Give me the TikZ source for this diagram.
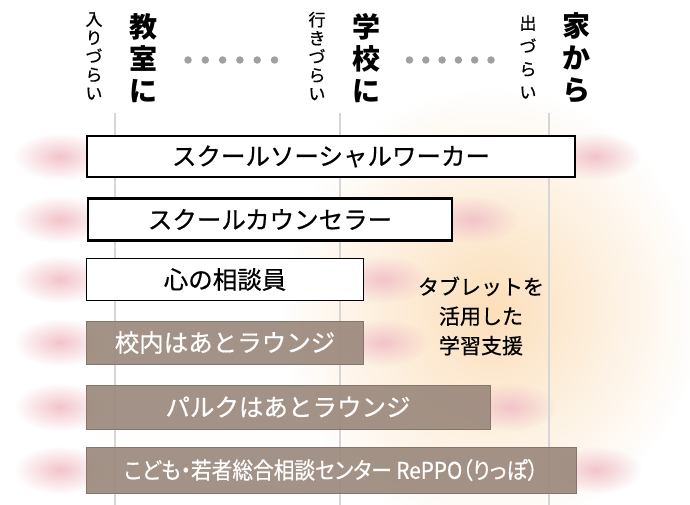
\documentclass[tikz,border=0pt]{standalone}
\usepackage{graphicx}
\usepackage{fontspec}
\setmainfont{Noto Sans CJK JP}
\newfontfamily\medfont{Noto Sans CJK JP}[FakeBold=0.6]
\newfontfamily\palfont{Noto Sans CJK JP}[FakeBold=0.6, RawFeature=+palt]
\usetikzlibrary{fadings}
\tikzfading[name=glow, inner color=transparent!0, outer color=transparent!100]
\definecolor{boxbrown}{HTML}{9C897D}
\definecolor{boxedge}{HTML}{86756A}
\definecolor{glowpink}{HTML}{F2C4CA}
\definecolor{glowpeach}{HTML}{FCDFBA}
\definecolor{guide}{HTML}{D6D6D6}
\definecolor{dotgray}{HTML}{A0A0A0}
\tikzset{
  bighead/.style={align=center, inner sep=0pt, font=\bfseries\fontsize{28}{32}\selectfont},
  smallhead/.style={align=center, inner sep=0pt, font=\medfont\fontsize{17}{18.5}\selectfont},
  guideline/.style={draw=guide, line width=2pt},
  wbox/.style={draw=black, line width=1.6pt, fill=white, inner sep=0pt, font=\medfont\fontsize{24.5}{26}\selectfont},
  bbox/.style={draw=boxedge, line width=0.8pt, fill=boxbrown, fill opacity=0.92, text opacity=1, text=white, inner sep=0pt, font=\medfont\fontsize{24.5}{26}\selectfont},
  pinkglow/.style={fill=glowpink, path fading=glow},
  dotmark/.style={circle, fill=dotgray, inner sep=0pt, minimum size=7.5pt},
}
\begin{document}
\begin{tikzpicture}[x=1pt,y=-1pt]
\useasboundingbox (0,0) rectangle (690,505);
\fill[white] (0,0) rectangle (690,505);
% big peach glow
\fill[glowpeach, path fading=glow] (490,310) ellipse (210 and 220);
% pink glows
\foreach \yy/\rr in {156.5/575, 219.5/452, 279.5/363, 342.5/363, 407/490, 470/576}{
  \fill[pinkglow] (60,\yy) ellipse (46 and 24);
  \fill[pinkglow] (\rr+20,\yy) ellipse (46 and 24);
}
% guide lines
\coordinate (g1t) at (115,113); \coordinate (g1b) at (115,505);
\coordinate (g2t) at (340,113); \coordinate (g2b) at (340,505);
\coordinate (g3t) at (549,113); \coordinate (g3b) at (549,505);
\draw[guideline] (g1t) -- (g1b);
\draw[guideline] (g2t) -- (g2b);
\draw[guideline] (g3t) -- (g3b);
% headings
\node[smallhead] (h1s) at (94,56) {入\\り\\づ\\ら\\い};
\node[bighead] (h1) at (143,58) {教\\室\\に};
\node[smallhead] (h2s) at (317,56) {行\\き\\づ\\ら\\い};
\node[bighead] (h2) at (366,58) {学\\校\\に};
\node[smallhead, font=\medfont\fontsize{17}{23}\selectfont] (h3s) at (528,57) {出\\づ\\ら\\い};
\node[bighead] (h3) at (576,58) {家\\か\\ら};
\foreach \i in {0,...,5}{
  \node[dotmark] (da\i) at (188+17.3*\i,60) {};
  \node[dotmark] (db\i) at (409.5+16.3*\i,60) {};
}
% boxes
\node[wbox, minimum width=488pt, minimum height=41pt] (b1) at (331,156.5) {スクールソーシャルワーカー};
\node[wbox, line width=2.6pt, minimum width=364pt, minimum height=42pt] (b2) at (270,219.5) {スクールカウンセラー};
\node[wbox, minimum width=277pt, minimum height=42pt] (b3) at (225,279.5) {心の相談員};
\node[bbox, minimum width=277pt, minimum height=43pt] (b4) at (225,342.5) {校内はあとラウンジ};
\node[bbox, minimum width=404pt, minimum height=44pt] (b5) at (288,407) {パルクはあとラウンジ};
\node[bbox, minimum width=490pt, minimum height=46pt] (b6) at (331,470) {\palfont\fontsize{23}{26}\selectfont\scalebox{0.9}[1]{こども・若者総合相談センター RePPO（りっぽ）}};
% tablet text
\node[align=center, inner sep=0pt, font=\medfont\fontsize{21}{29.5}\selectfont] (tab) at (481,316) {タブレットを\\活用した\\学習支援};
\end{tikzpicture}
\end{document}
